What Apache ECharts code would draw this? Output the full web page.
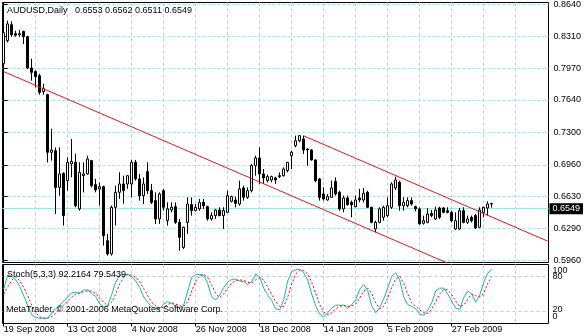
<!DOCTYPE html>
<html>
<head>
<meta charset="utf-8">
<script src="https://cdn.jsdelivr.net/npm/echarts@6/dist/echarts.min.js"></script>
<style>
  html, body { margin: 0; padding: 0; background: #fff; }
  #chart { width: 584px; height: 336px; }
</style>
</head>
<body>
<div id="chart"></div>
<script>
// AUDUSD daily bars, 19 Sep 2008 onwards (bar index = position on the x axis)
const symbolName = 'AUDUSD';
const timeframe = 'Daily';

const opens = [
  0.8021, 0.8262, 0.8430, 0.8336, 0.8325, 0.8360, 0.8304, 0.7976, 0.7940, 0.7895,
  0.7727, 0.7696, 0.7091, 0.7108, 0.6723, 0.6870, 0.6794, 0.6969, 0.6986, 0.6497,
  0.6846, 0.6864, 0.7004, 0.6752, 0.6707, 0.6731, 0.6164, 0.6025, 0.6514, 0.6671,
  0.6759, 0.6759, 0.6759, 0.6986, 0.6812, 0.6636, 0.6888, 0.6689, 0.6584, 0.6392,
  0.6689, 0.6374, 0.6486, 0.6521, 0.6356, 0.6094, 0.6356, 0.6542, 0.6479, 0.6497,
  0.6566, 0.6521, 0.6392, 0.6427, 0.6486, 0.6427, 0.6461, 0.6577, 0.6591, 0.6549,
  0.6717, 0.6619, 0.6689, 0.6951, 0.7032, 0.6864, 0.6794, 0.6801, 0.6822, 0.6846,
  0.6846, 0.6899, 0.7056, 0.7161, 0.7213, 0.7231, 0.7126, 0.7116, 0.7011, 0.6812,
  0.6654, 0.6591, 0.6619, 0.6786, 0.6671, 0.6497, 0.6612, 0.6566, 0.6521, 0.6612,
  0.6591, 0.6671, 0.6514, 0.6287, 0.6356, 0.6409, 0.6427, 0.6514, 0.6717, 0.6776,
  0.6531, 0.6531, 0.6584, 0.6521, 0.6497, 0.6346, 0.6356, 0.6451, 0.6392, 0.6507,
  0.6507, 0.6479, 0.6461, 0.6287, 0.6287, 0.6479, 0.6356, 0.6409, 0.6427, 0.6304,
  0.6461, 0.6507, 0.6553
];
const highs = [
  0.8367, 0.8472, 0.8465, 0.8367, 0.8375, 0.8367, 0.8315, 0.8074, 0.7948, 0.7916,
  0.7811, 0.7706, 0.7339, 0.7143, 0.7143, 0.6881, 0.7038, 0.7231, 0.7077, 0.6986,
  0.6986, 0.7056, 0.7011, 0.6812, 0.6776, 0.6741, 0.6235, 0.6531, 0.6741, 0.6881,
  0.6846, 0.6850, 0.7011, 0.7011, 0.6864, 0.6828, 0.6986, 0.6759, 0.6671, 0.6671,
  0.6707, 0.6566, 0.6566, 0.6566, 0.6392, 0.6310, 0.6619, 0.6619, 0.6549, 0.6602,
  0.6602, 0.6531, 0.6461, 0.6497, 0.6514, 0.6514, 0.6689, 0.6636, 0.6626, 0.6794,
  0.6741, 0.6723, 0.6969, 0.7056, 0.7143, 0.6916, 0.6857, 0.6846, 0.6836, 0.6881,
  0.6933, 0.6990, 0.7108, 0.7266, 0.7273, 0.7266, 0.7130, 0.7126, 0.7020, 0.6820,
  0.6723, 0.6654, 0.6794, 0.6828, 0.6689, 0.6636, 0.6636, 0.6584, 0.6636, 0.6707,
  0.6717, 0.6689, 0.6520, 0.6374, 0.6514, 0.6531, 0.6619, 0.6776, 0.6836, 0.6794,
  0.6619, 0.6619, 0.6619, 0.6531, 0.6514, 0.6427, 0.6507, 0.6486, 0.6521, 0.6521,
  0.6514, 0.6514, 0.6479, 0.6461, 0.6507, 0.6514, 0.6427, 0.6427, 0.6444, 0.6514,
  0.6521, 0.6577, 0.6562
];
const lows = [
  0.8011, 0.8245, 0.8304, 0.8304, 0.8304, 0.8228, 0.7965, 0.7843, 0.7772, 0.7696,
  0.7696, 0.6986, 0.7004, 0.6444, 0.6636, 0.6322, 0.6689, 0.6828, 0.6514, 0.6479,
  0.6671, 0.6857, 0.6723, 0.6671, 0.6531, 0.6112, 0.6007, 0.6007, 0.6322, 0.6602,
  0.6552, 0.6707, 0.6619, 0.6794, 0.6584, 0.6549, 0.6654, 0.6549, 0.6340, 0.6340,
  0.6479, 0.6322, 0.6461, 0.6340, 0.6059, 0.6077, 0.6235, 0.6427, 0.6472, 0.6479,
  0.6497, 0.6374, 0.6374, 0.6392, 0.6420, 0.6287, 0.6455, 0.6566, 0.6514, 0.6531,
  0.6584, 0.6602, 0.6671, 0.6846, 0.6759, 0.6759, 0.6776, 0.6776, 0.6759, 0.6822,
  0.6836, 0.6881, 0.6916, 0.7143, 0.7196, 0.7074, 0.6951, 0.7004, 0.6776, 0.6584,
  0.6584, 0.6584, 0.6612, 0.6636, 0.6479, 0.6461, 0.6531, 0.6409, 0.6514, 0.6566,
  0.6566, 0.6507, 0.6346, 0.6251, 0.6346, 0.6374, 0.6409, 0.6497, 0.6696, 0.6479,
  0.6479, 0.6514, 0.6531, 0.6472, 0.6332, 0.6332, 0.6346, 0.6409, 0.6381, 0.6392,
  0.6451, 0.6451, 0.6356, 0.6277, 0.6277, 0.6346, 0.6340, 0.6356, 0.6287, 0.6298,
  0.6409, 0.6427, 0.6511
];
const closes = [
  0.8346, 0.8438, 0.8325, 0.8320, 0.8336, 0.8304, 0.7976, 0.7930, 0.7885, 0.7720,
  0.7759, 0.7091, 0.7116, 0.6723, 0.6864, 0.6427, 0.6986, 0.6996, 0.6531, 0.6881,
  0.6864, 0.7021, 0.6741, 0.6696, 0.6731, 0.6217, 0.6025, 0.6514, 0.6671, 0.6759,
  0.6689, 0.6846, 0.6986, 0.6812, 0.6636, 0.6759, 0.6689, 0.6566, 0.6392, 0.6654,
  0.6514, 0.6497, 0.6514, 0.6356, 0.6199, 0.6304, 0.6549, 0.6479, 0.6514, 0.6566,
  0.6531, 0.6392, 0.6427, 0.6486, 0.6427, 0.6479, 0.6636, 0.6626, 0.6556, 0.6707,
  0.6619, 0.6689, 0.6951, 0.7032, 0.6864, 0.6822, 0.6836, 0.6836, 0.6801, 0.6836,
  0.6916, 0.6986, 0.7091, 0.7213, 0.7266, 0.7116, 0.7116, 0.7011, 0.6794, 0.6619,
  0.6602, 0.6626, 0.6717, 0.6654, 0.6497, 0.6612, 0.6542, 0.6542, 0.6591, 0.6591,
  0.6661, 0.6514, 0.6356, 0.6356, 0.6497, 0.6514, 0.6531, 0.6759, 0.6801, 0.6531,
  0.6566, 0.6584, 0.6549, 0.6497, 0.6340, 0.6374, 0.6444, 0.6427, 0.6486, 0.6409,
  0.6461, 0.6461, 0.6374, 0.6374, 0.6479, 0.6356, 0.6392, 0.6374, 0.6298, 0.6486,
  0.6514, 0.6549, 0.6549
];

// Stochastic(5,3,3): main line and signal line
const stochK = [
  58, 82, 80, 74, 63, 47, 31, 15, 10, 9,
  9, 9, 18, 25, 31, 38, 45, 52, 53, 51,
  57, 57, 51, 46, 33, 28, 30, 49, 70, 82,
  83, 83, 80, 72, 61, 45, 36, 28, 26, 25,
  33, 37, 34, 29, 26, 31, 55, 78, 83, 83,
  82, 68, 45, 40, 48, 61, 70, 75, 75, 72,
  71, 66, 71, 84, 79, 60, 48, 39, 25, 23,
  40, 72, 88, 91, 92, 86, 74, 50, 30, 16,
  11, 18, 26, 31, 31, 31, 26, 32, 40, 58,
  66, 56, 30, 18, 27, 42, 60, 80, 86, 74,
  45, 32, 29, 25, 16, 14, 22, 35, 55, 60,
  60, 50, 38, 26, 24, 44, 55, 50, 36, 48,
  70, 85, 92.2164
];
const stochD = [
  50, 62, 73, 79, 72, 61, 47, 31, 19, 11,
  9, 9, 12, 17, 25, 31, 38, 45, 50, 52,
  54, 55, 55, 51, 43, 36, 30, 36, 50, 67,
  78, 83, 82, 78, 71, 59, 47, 36, 30, 26,
  28, 32, 35, 33, 30, 29, 37, 55, 72, 81,
  83, 78, 65, 51, 44, 50, 60, 69, 73, 74,
  73, 70, 69, 74, 78, 74, 62, 49, 37, 29,
  29, 45, 67, 84, 90, 90, 84, 70, 51, 32,
  19, 15, 18, 25, 29, 31, 29, 30, 33, 43,
  55, 60, 51, 35, 25, 29, 43, 61, 75, 80,
  68, 50, 35, 29, 23, 18, 17, 24, 37, 50,
  58, 57, 49, 38, 29, 31, 41, 50, 47, 45,
  51, 68, 79.5439
];

// Time scale labels and the bars they sit on
const dateLabels = ['19 Sep 2008', '13 Oct 2008', '4 Nov 2008', '26 Nov 2008',
                    '18 Dec 2008', '14 Jan 2009', '5 Feb 2009', '27 Feb 2009'];
const dateLabelBars = [0, 16, 32, 48, 64, 80, 96, 112];
const gridBars = [8, 16, 24, 32, 40, 48, 56, 64, 72, 80, 88, 96, 104, 112, 120, 128];

// Price scale levels
const priceTicks = [0.5960, 0.6290, 0.6630, 0.6960, 0.7300, 0.7640, 0.7970, 0.8310, 0.8640];
const stochLevels = [20, 80];
const stochBounds = [0, 100];

// Trend channel: anchor points [bar, price]
const lowerTrend = [[0, 0.7938], [136, 0.5475]];
const upperTrend = [[75, 0.7264], [136, 0.6159]];

const FONT = "'Liberation Sans', Arial, sans-serif";
const FS = 9;
const last = closes.length - 1;
const xMin = -0.3, xMax = 136.2;

const candleData = opens.map((o, i) => [i, o, closes[i], lows[i], highs[i]]);
const kData = stochK.map((v, i) => [i, v]);
const dData = stochD.map((v, i) => [i, v]);

const headerText = symbolName + ',' + timeframe + '   ' +
  [opens[last], highs[last], lows[last], closes[last]].map(v => v.toFixed(4)).join(' ');
const stochText = 'Stoch(5,3,3) ' + stochK[last].toFixed(4) + ' ' + stochD[last].toFixed(4);

const vGridLine = { show: true, lineStyle: { color: '#c8c8c8', type: [3, 3], width: 1 } };
const tok = (pad) => ({ padding: pad, fontSize: FS, fontFamily: FONT, color: '#000' });
const hiddenX = { show: false, type: 'value', min: xMin, max: xMax };

// indicator window rectangle (shared by the level scale and the bounds scale)
const stochRect = { left: 2.5, top: 264.5, width: 546, height: 59 };

const chart = echarts.init(document.getElementById('chart'), null, { renderer: 'canvas' });
chart.setOption({
  animation: false,
  backgroundColor: '#ffffff',
  textStyle: { fontFamily: FONT },
  grid: [
    { left: 2.5, top: 2.5, width: 546, height: 260, show: true, borderColor: '#000', borderWidth: 1,
      backgroundColor: '#fff', containLabel: false, outerBoundsMode: 'none' },
    Object.assign({ show: true, borderColor: '#000', borderWidth: 1, backgroundColor: '#fff',
      containLabel: false, outerBoundsMode: 'none' }, stochRect),
    Object.assign({ show: false, containLabel: false, outerBoundsMode: 'none' }, stochRect)
  ],
  xAxis: [
    { type: 'value', gridIndex: 0, min: xMin, max: xMax,
      axisLine: { show: false }, axisTick: { show: false, customValues: gridBars },
      axisLabel: { show: false }, splitLine: vGridLine },
    { type: 'value', gridIndex: 1, position: 'bottom', min: xMin, max: xMax,
      axisLine: { show: false },
      axisTick: { show: true, customValues: dateLabelBars, length: 3, lineStyle: { color: '#000', width: 1 } },
      axisLabel: { show: true, customValues: dateLabelBars, hideOverlap: false,
        showMinLabel: true, showMaxLabel: true,
        formatter: v => dateLabels[dateLabelBars.indexOf(Math.round(v))] || '',
        align: 'left', margin: 2, color: '#000', fontSize: FS, fontFamily: FONT },
      splitLine: { show: false } },
    { type: 'value', gridIndex: 1, min: xMin, max: xMax,
      axisLine: { show: false }, axisTick: { show: false, customValues: gridBars },
      axisLabel: { show: false }, splitLine: vGridLine },
    Object.assign({ gridIndex: 2 }, hiddenX)
  ],
  yAxis: [
    { type: 'value', gridIndex: 0, position: 'right', min: 0.59349, max: 0.86631,
      axisLine: { show: true, lineStyle: { color: '#000', width: 1 } },
      axisTick: { show: true, customValues: priceTicks, length: 4, lineStyle: { color: '#000' } },
      axisLabel: { customValues: priceTicks, formatter: v => v.toFixed(4), margin: 5,
        hideOverlap: false, showMinLabel: true, showMaxLabel: true,
        color: '#000', fontSize: FS, fontFamily: FONT },
      splitLine: { show: true, lineStyle: { color: '#a6e4e4', type: [3, 2], width: 1 } } },
    { type: 'value', gridIndex: 1, position: 'right', min: 0, max: 100,
      axisLine: { show: true, lineStyle: { color: '#000', width: 1 } },
      axisTick: { show: false, customValues: stochLevels },
      axisLabel: { customValues: stochLevels, margin: 4,
        hideOverlap: false, showMinLabel: true, showMaxLabel: true,
        formatter: v => v === 20 ? '{up|20}' : '{n|' + v + '}',
        rich: { up: tok([0, 0, 4, 0]), n: tok([0, 0, 0, 0]) } },
      splitLine: { show: true, lineStyle: { color: '#c8c8c8', type: [3, 3], width: 1 } } },
    { type: 'value', gridIndex: 2, position: 'right', min: 0, max: 100,
      axisLine: { show: false }, axisTick: { show: false, customValues: stochBounds },
      axisLabel: { customValues: stochBounds, margin: 4,
        hideOverlap: false, showMinLabel: true, showMaxLabel: true,
        formatter: v => v === 100 ? '{hi|100}' : '{lo|0}',
        rich: { hi: tok([12, 0, 0, 0]), lo: tok([0, 0, 14, 0]) } },
      splitLine: { show: false } }
  ],
  series: [
    { type: 'candlestick', name: symbolName, xAxisIndex: 0, yAxisIndex: 0,
      data: candleData, barWidth: 2, z: 3, silent: true, emphasis: { disabled: true },
      itemStyle: { color: '#ffffff', color0: '#000000', borderColor: '#000000', borderColor0: '#000000', borderWidth: 1 },
      markLine: {
        silent: true, z: 1, symbol: ['none', 'none'], animation: false,
        data: [{ yAxis: closes[last] }],
        lineStyle: { color: '#a6e4e4', type: 'solid', width: 1 },
        label: { show: true, position: 'end', distance: 1, formatter: closes[last].toFixed(4),
          color: '#fff', backgroundColor: '#000', padding: [0, 3, 0, 3], lineHeight: 11,
          fontSize: FS, fontFamily: FONT }
      } },
    { type: 'line', name: 'lower trend', xAxisIndex: 0, yAxisIndex: 0, data: lowerTrend,
      showSymbol: false, clip: true, silent: true, z: 5,
      lineStyle: { color: '#e01818', width: 1 } },
    { type: 'line', name: 'upper trend', xAxisIndex: 0, yAxisIndex: 0, data: upperTrend,
      showSymbol: false, clip: true, silent: true, z: 5,
      lineStyle: { color: '#e01818', width: 1 } },
    { type: 'line', name: 'Stoch main', xAxisIndex: 1, yAxisIndex: 1, data: kData,
      showSymbol: false, clip: true, silent: true, z: 3,
      lineStyle: { color: '#20b2aa', width: 1 } },
    { type: 'line', name: 'Stoch signal', xAxisIndex: 1, yAxisIndex: 1, data: dData,
      showSymbol: false, clip: true, silent: true, z: 4,
      lineStyle: { color: '#ff0000', width: 1, type: [2, 2] } }
  ],
  graphic: [
    { type: 'text', left: 7, top: 6, z: 10, silent: true,
      style: { text: headerText, fill: '#000', fontSize: FS, fontFamily: FONT } },
    { type: 'text', left: 7, top: 270.5, z: 10, silent: true,
      style: { text: stochText, fill: '#000', fontSize: FS, fontFamily: FONT } },
    { type: 'text', left: 6, top: 305.5, z: 10, silent: true,
      style: { text: 'MetaTrader, © 2001-2006 MetaQuotes Software Corp.', fill: '#000', fontSize: FS, fontFamily: FONT } }
  ]
});
</script>
</body>
</html>
